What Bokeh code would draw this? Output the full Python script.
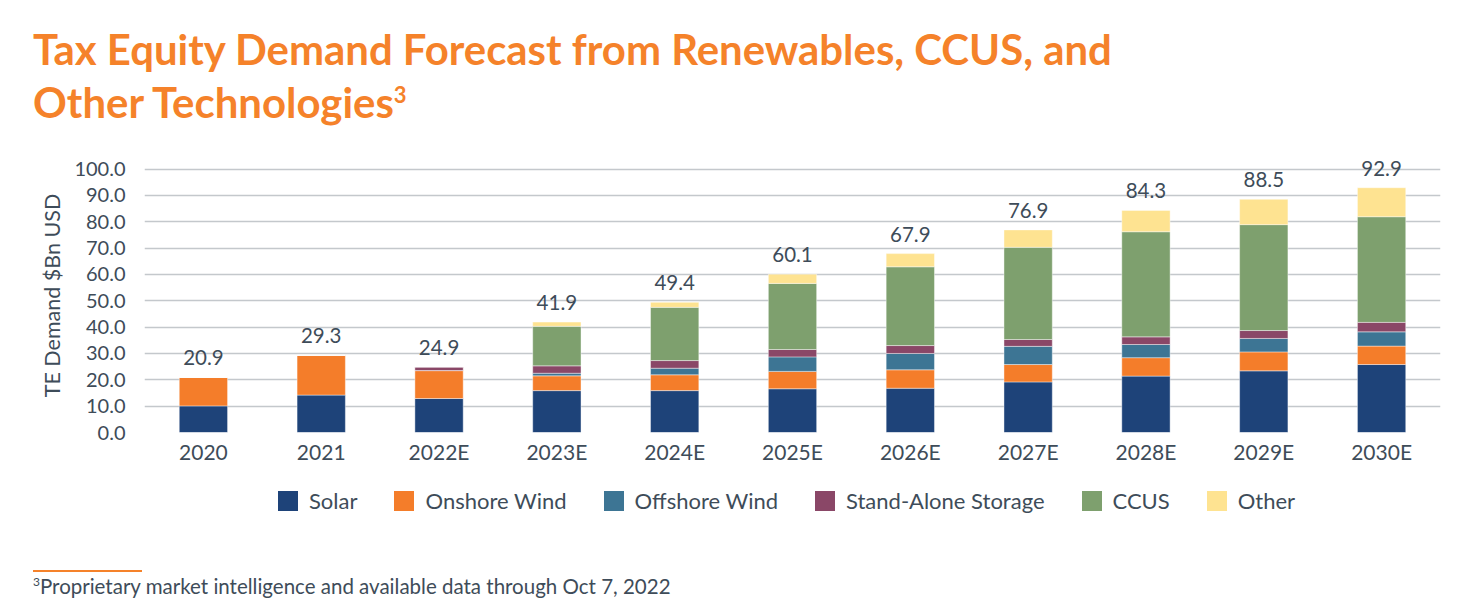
from bokeh.plotting import figure
from bokeh.models import (ColumnDataSource, FactorRange, Range1d, FixedTicker,
                          NumeralTickFormatter, Legend, LegendItem, Div)
from bokeh.layouts import column
from bokeh.embed import file_html
from bokeh.resources import INLINE
from bokeh.core.properties import value

# Tax equity demand by technology, $Bn USD
years = ["2020", "2021", "2022E", "2023E", "2024E", "2025E",
         "2026E", "2027E", "2028E", "2029E", "2030E"]
solar = [10.1, 14.2, 12.9, 15.9, 15.9, 16.6, 16.8, 19.2, 21.4, 23.4, 25.8]
onshore_wind = [10.8, 15.1, 10.6, 5.6, 6.0, 6.6, 7.0, 6.6, 7.0, 7.2, 7.0]
offshore_wind = [0.0, 0.0, 0.0, 1.0, 2.5, 5.5, 6.2, 6.9, 5.0, 5.1, 5.4]
storage = [0.0, 0.0, 1.4, 2.8, 2.9, 2.8, 3.0, 2.6, 2.9, 3.0, 3.6]
ccus = [0.0, 0.0, 0.0, 15.0, 20.2, 25.1, 29.9, 35.0, 39.9, 40.2, 40.1]
other = [0.0, 0.0, 0.0, 1.6, 1.9, 3.5, 5.0, 6.6, 8.1, 9.6, 11.0]

series_keys = ["solar", "onshore", "offshore", "storage", "ccus", "other"]
series_names = ["Solar", "Onshore Wind", "Offshore Wind", "Stand-Alone Storage", "CCUS", "Other"]
series_colors = ["#1e4379", "#f47d2a", "#3d7594", "#8a4767", "#7ea06e", "#fee391"]
y_ticks = [0, 10, 20, 30, 40, 50, 60, 70, 80, 90, 100]

totals = [round(sum(v), 1) for v in zip(solar, onshore_wind, offshore_wind, storage, ccus, other)]

source = ColumnDataSource(dict(
    year=years, solar=solar, onshore=onshore_wind, offshore=offshore_wind,
    storage=storage, ccus=ccus, other=other,
    total=totals, total_text=["%.1f" % t for t in totals],
))

FONT = "Lato"
TEXT = "#3e4c59"
ORANGE = "#f5822a"
W = 1476

heading = Div(
    text=(
        f'<div style="font-family:{FONT};font-weight:bold;font-size:41.9px;'
        f'line-height:53px;color:{ORANGE};padding:23px 0 0 33px;white-space:nowrap;">'
        'Tax Equity Demand Forecast from Renewables, CCUS, and<br>'
        'Other Technologies<sup style="font-size:22px;vertical-align:15px;line-height:0;">3</sup>'
        '</div>'
    ),
    width=W, height=150, margin=0,
)

# main stacked-bar chart
p = figure(
    x_range=FactorRange(*years), y_range=Range1d(0, 104),
    width=W, height=320, output_backend="svg", toolbar_location=None,
    min_border_left=144, min_border_right=36, min_border_top=8, min_border_bottom=38,
    margin=0,
)
p.outline_line_color = None
p.background_fill_color = "white"
p.border_fill_color = "white"

renderers = p.vbar_stack(series_keys, x="year", width=0.41, source=source,
                         color=series_colors, line_color="white", line_width=0.6,
                         line_alpha=0.7)

# value labels above each stack
p.text(x="year", y="total", text="total_text", source=source,
       text_align="center", text_baseline="bottom", y_offset=-12,
       text_font=value(FONT), text_font_size="20.5px", text_color=TEXT)

p.xgrid.grid_line_color = None
p.ygrid.grid_line_color = "#c4c8cc"
p.ygrid.grid_line_width = 1.6
p.ygrid.ticker = FixedTicker(ticks=y_ticks)

p.yaxis.ticker = FixedTicker(ticks=y_ticks)
p.yaxis.formatter = NumeralTickFormatter(format="0.0")
p.yaxis.axis_label = "TE Demand $Bn USD"
p.yaxis.axis_label_standoff = 6
p.yaxis.major_label_standoff = 19

for ax in (p.xaxis[0], p.yaxis[0]):
    ax.axis_line_color = None
    ax.major_tick_line_color = None
    ax.minor_tick_line_color = None
    ax.major_tick_out = 0
    ax.major_tick_in = 0
    ax.major_label_text_font = FONT
    ax.major_label_text_color = TEXT
    ax.axis_label_text_font = FONT
    ax.axis_label_text_font_size = "21.5px"
    ax.axis_label_text_color = TEXT
    ax.axis_label_text_font_style = "normal"

p.xaxis.major_label_text_font_size = "21px"
p.yaxis.major_label_text_font_size = "20px"
p.xaxis.major_label_standoff = 6

# legend strip; its swatch glyphs are zero-size bars carrying the series colours
lg = figure(width=W, height=60, output_backend="svg", toolbar_location=None,
            x_axis_location=None, y_axis_location=None,
            x_range=Range1d(0, 1), y_range=Range1d(0, 1),
            min_border=0, margin=0)
lg.outline_line_color = None
lg.grid.grid_line_color = None
swatches = [lg.vbar(x=[0.5], top=[0], bottom=[0], width=0, fill_color=c, line_color=None)
            for c in series_colors]
legend = Legend(
    items=[LegendItem(label=n, renderers=[r]) for n, r in zip(series_names, swatches)],
    orientation="horizontal", location=(131, 16),
    glyph_width=25, glyph_height=25, label_standoff=9, spacing=34,
    padding=0, margin=0, border_line_color=None, background_fill_alpha=0,
    label_text_font=FONT, label_text_font_size="22px", label_text_color=TEXT,
)
lg.add_layout(legend, "center")

footnote = Div(
    text=(
        f'<div style="margin:40px 0 0 33px;width:109px;border-top:2px solid {ORANGE};"></div>'
        f'<div style="font-family:{FONT};font-size:20.5px;line-height:24px;color:{TEXT};'
        'margin:2px 0 0 33px;white-space:nowrap;">'
        '<sup style="font-size:12px;line-height:0;">3</sup>'
        'Proprietary market intelligence and available data through Oct 7, 2022</div>'
    ),
    width=W, height=86, margin=0,
)

page = column(heading, p, lg, footnote, spacing=0)
open("out.html", "w").write(file_html(page, INLINE))
